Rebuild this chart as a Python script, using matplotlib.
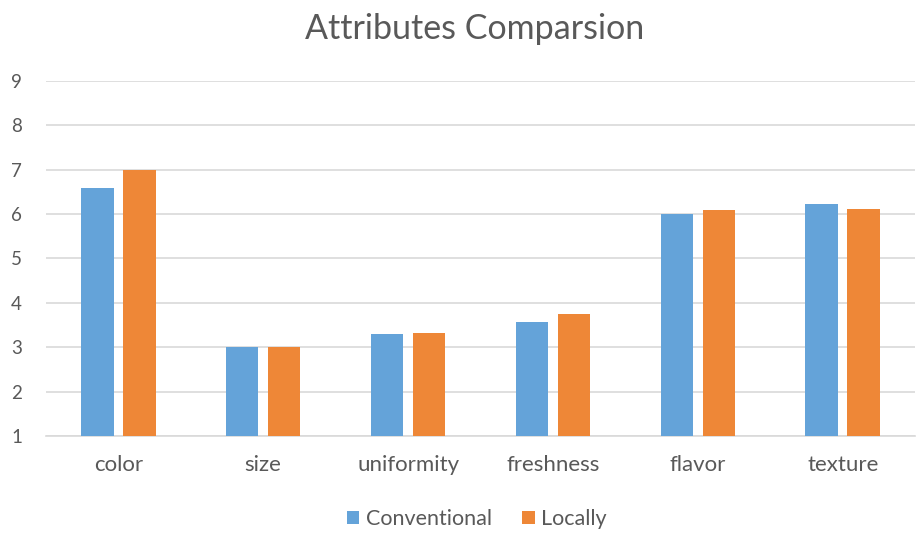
import numpy as np
import matplotlib
matplotlib.use("Agg")
import matplotlib.pyplot as plt

plt.rcParams['font.family'] = ['Lato', 'DejaVu Sans']

categories = ['color', 'size', 'uniformity', 'freshness', 'flavor', 'texture']
conventional = [6.58, 3.01, 3.29, 3.56, 6.0, 6.22]
locally = [6.99, 3.01, 3.33, 3.74, 6.08, 6.12]

blue = '#64A3D9'
orange = '#EE8737'
text_col = '#595959'
grid_col = '#D9D9D9'

fig = plt.figure(figsize=(9.17, 5.35), dpi=100)
ax = fig.add_axes([0.05, 0.185, 0.948, 0.664])

x = np.arange(len(categories))
w = 0.225
ax.bar(x - 0.145, conventional, w, color=blue, label='Conventional', zorder=3)
ax.bar(x + 0.145, locally, w, color=orange, label='Locally', zorder=3)

ax.set_ylim(1, 9)
ax.set_xlim(-0.5, len(categories) - 0.5)
ax.set_yticks(range(1, 10))
ax.set_xticks(x)
ax.set_xticklabels(categories)
ax.yaxis.grid(True, color=grid_col, linewidth=1.2, zorder=0)
for s in ['top', 'right', 'left']:
    ax.spines[s].set_visible(False)
ax.spines['bottom'].set_color(grid_col)
ax.spines['bottom'].set_linewidth(1.2)
ax.tick_params(length=0, colors=text_col)
ax.tick_params(axis='x', labelsize=16, pad=14)
ax.tick_params(axis='y', labelsize=13.5, pad=25)
for t in ax.get_yticklabels():
    t.set_horizontalalignment('left')

fig.suptitle('Attributes Comparsion', x=0.518, y=0.975, fontsize=24.5, color=text_col)

leg = fig.legend(loc='center', bbox_to_anchor=(0.52, 0.03), ncol=2, frameon=False,
                 fontsize=15.5, handlelength=0.6, handleheight=0.6,
                 handletextpad=0.3, columnspacing=1.4)
for t in leg.get_texts():
    t.set_color(text_col)

fig.savefig('out.png', dpi=100)
